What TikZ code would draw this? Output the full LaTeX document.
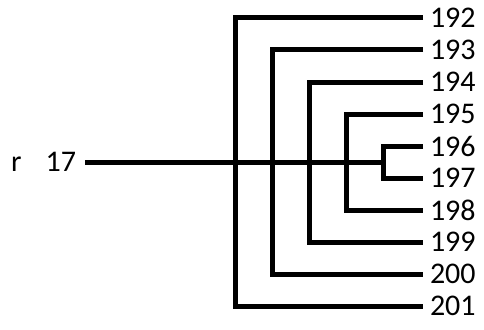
\documentclass[tikz,border=0pt]{standalone}
\usepackage{fontspec}
\setmainfont{Carlito}
\usepackage{tikz}
\usetikzlibrary{positioning}
\tikzstyle{leaf} = [anchor=west, inner xsep=7pt, inner ysep=0pt, outer sep=0pt,
font=\fontsize{30}{32}\selectfont]
\tikzstyle{branch} = [line width=5pt, line join=miter]

\begin{document}
\begin{tikzpicture}[
        x=1pt, y=-1pt,
        % Estilo para la raiz
        root/.style={anchor=east, inner xsep=9pt, inner ysep=0pt, outer sep=0pt,
            font=\fontsize{30}{32}\selectfont},
    ]
        \useasboundingbox (0,0) rectangle (484,329);

        % 1. La raiz
        \node (root) [root] at (85,162) {r\hspace{0.8em}17};

        % 2. Las hojas (192 ... 201)
        \foreach \n [count=\i from 0] in {192,...,201}
            \node (l\n) [leaf] at (423, 18+32*\i) {\n};

        % 3. Los corchetes anidados
        \foreach \top/\bot [count=\k from 0] in {192/201, 193/200, 194/199, 195/198, 196/197}
            \draw[branch] (l\top.west) -| (235+37*\k, 162) |- (l\bot.west);

        % Linea principal hasta el corchete interior
        \coordinate (inner) at (383,162);
        \draw[branch] (root.east) -- (inner);
    \end{tikzpicture}
\end{document}
